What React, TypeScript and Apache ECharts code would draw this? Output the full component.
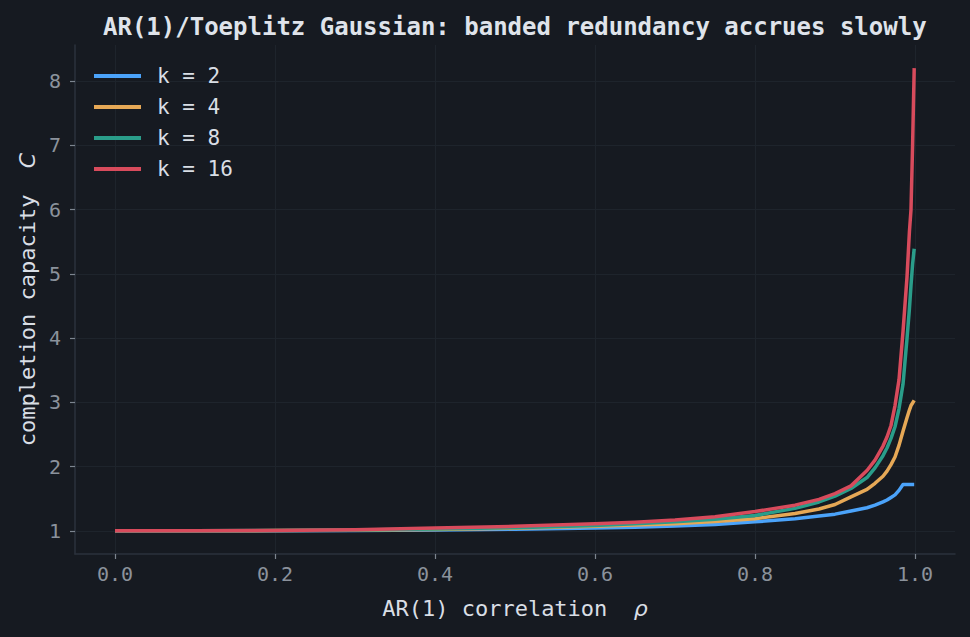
import { useEffect, useRef } from 'react'
import * as echarts from 'echarts'

type EChartsOption = Record<string, any>

// correlation grid (x) shared by every curve
const rho = [
  0, 0.1, 0.2, 0.3, 0.4, 0.5, 0.6, 0.65, 0.7, 0.75, 0.8, 0.85, 0.88, 0.9, 0.92, 0.94, 0.95, 0.96,
  0.965, 0.97, 0.975, 0.98, 0.985, 0.99, 0.993, 0.995, 0.997, 0.999,
]

const capK2 = [
  1.0, 1.0, 1.002, 1.006, 1.013, 1.025, 1.045, 1.058, 1.075, 1.1, 1.14, 1.19, 1.23, 1.26, 1.31, 1.36,
  1.4, 1.45, 1.48, 1.52, 1.56, 1.63, 1.72, 1.72, 1.72, 1.72, 1.72, 1.72,
]
const capK4 = [
  1.0, 1.001, 1.004, 1.01, 1.022, 1.04, 1.07, 1.09, 1.11, 1.145, 1.19, 1.27, 1.34, 1.41, 1.53, 1.645,
  1.74, 1.85, 1.93, 2.03, 2.15, 2.33, 2.55, 2.76, 2.88, 2.95, 2.99, 3.03,
]
const capK8 = [
  1.0, 1.001, 1.005, 1.013, 1.03, 1.05, 1.085, 1.11, 1.14, 1.18, 1.24, 1.35, 1.45, 1.54, 1.66, 1.83,
  1.98, 2.17, 2.29, 2.44, 2.62, 2.9, 3.28, 3.99, 4.45, 4.82, 5.15, 5.39,
]
const capK16 = [
  1.0, 1.002, 1.007, 1.018, 1.045, 1.07, 1.11, 1.135, 1.17, 1.22, 1.3, 1.4, 1.49, 1.58, 1.7, 1.94,
  2.1, 2.32, 2.46, 2.64, 2.95, 3.35, 4.1, 4.95, 5.65, 6.0, 7.0, 8.2,
]

const seriesNames = ['k = 2', 'k = 4', 'k = 8', 'k = 16']
const seriesColors = ['#4ba3fa', '#e6a856', '#2a9d8a', '#d84b5c']
const seriesValues = [capK2, capK4, capK8, capK16]

const xTicks = [0, 0.2, 0.4, 0.6, 0.8, 1.0]
const yTicks = [1, 2, 3, 4, 5, 6, 7, 8]

const MONO = "'DejaVu Sans Mono', monospace"

export default function App() {
  const chartRef = useRef<HTMLDivElement>(null)

  useEffect(() => {
    if (!chartRef.current) return
    const chart = echarts.init(chartRef.current, null, { renderer: 'svg' })

    const axisCommon = {
      type: 'value',
      axisLine: { show: true, onZero: false, lineStyle: { color: '#2b323c', width: 1.5 } },
      axisTick: { show: true, length: 5, lineStyle: { color: '#7d8590', width: 1.2 } },
      splitLine: { show: true, lineStyle: { color: '#1e242c', width: 1 } },
      nameTextStyle: {
        color: '#d9dee5',
        fontFamily: MONO,
        fontSize: 22,
        rich: { i: { fontFamily: "'DejaVu Sans'", fontStyle: 'italic', fontSize: 22, color: '#d9dee5' } },
      },
    }

    const option: EChartsOption = {
      backgroundColor: '#161a21',
      animation: false,
      title: {
        text: 'AR(1)/Toeplitz Gaussian: banded redundancy accrues slowly',
        left: 98,
        top: 10,
        textStyle: { color: '#dfe3ea', fontFamily: MONO, fontWeight: 'bold', fontSize: 24 },
      },
      grid: { left: 75, right: 15, top: 45, bottom: 83 },
      legend: {
        orient: 'vertical',
        left: 89,
        top: 60,
        icon: 'rect',
        itemWidth: 47,
        itemHeight: 4,
        itemGap: 9,
        data: seriesNames,
        textStyle: {
          color: '#d9dee5',
          fontFamily: MONO,
          fontSize: 21,
          lineHeight: 22,
          padding: [0, 0, 0, 11],
        },
      },
      xAxis: {
        ...axisCommon,
        min: -0.05,
        max: 1.05,
        name: 'AR(1) correlation  {i|ρ}',
        nameLocation: 'middle',
        nameGap: 43,
        axisTick: { ...axisCommon.axisTick, customValues: xTicks },
        axisLabel: {
          customValues: xTicks,
          color: '#8b929c',
          fontFamily: MONO,
          fontSize: 20,
          margin: 10,
          formatter: (v: number) => v.toFixed(1),
        },
      },
      yAxis: {
        ...axisCommon,
        min: 0.64,
        max: 8.56,
        name: 'completion capacity  {i|C}',
        nameLocation: 'middle',
        nameGap: 37,
        axisTick: { ...axisCommon.axisTick, customValues: yTicks },
        axisLabel: {
          customValues: yTicks,
          color: '#8b929c',
          fontFamily: MONO,
          fontSize: 20,
          margin: 14,
          formatter: (v: number) => String(v),
        },
      },
      series: seriesNames.map((name, i) => ({
        name,
        type: 'line',
        data: rho.map((r, j) => [r, seriesValues[i][j]]),
        showSymbol: false,
        symbol: 'none',
        smooth: false,
        lineStyle: { color: seriesColors[i], width: 3.5, join: 'round' },
        itemStyle: { color: seriesColors[i] },
        z: 2 + i,
      })),
    }

    chart.setOption(option)
    return () => {
      chart.dispose()
    }
  }, [])

  return (
    <div
      ref={chartRef}
      style={{ position: 'fixed', left: 0, top: 0, width: 970, height: 637 }}
    />
  )
}
